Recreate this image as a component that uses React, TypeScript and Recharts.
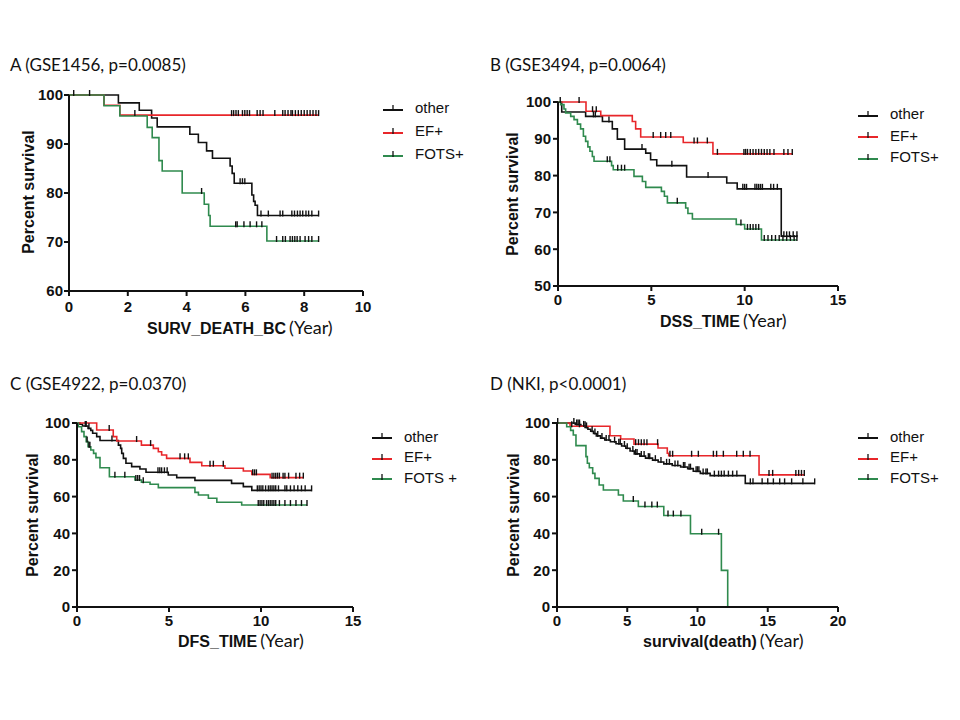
import React from "react";
import { LineChart, Line, XAxis, YAxis, Legend } from "recharts";

// ---------- A (GSE1456) ----------
const aOtherTime = [1.68, 2.39, 2.81, 3.0, 4.11, 4.4, 4.68, 4.88, 5.48, 5.55, 5.62, 6.22, 6.28, 6.33, 6.41];
const aOtherSurv = [98.4, 96.9, 95.3, 93.5, 92.0, 90.3, 88.6, 87.1, 85.5, 84.0, 82.0, 79.6, 78.3, 77.5, 75.4];
const aOtherCens = [0.16, 0.7, 5.82, 5.9, 5.98, 6.53, 6.78, 7.18, 7.27, 7.58, 7.67, 7.77, 7.86, 7.95, 8.06, 8.15, 8.26, 8.49];
const aEfTime = [1.19, 1.73];
const aEfSurv = [97.9, 95.9];
const aEfCens = [2.24, 5.53, 5.6, 5.68, 5.76, 5.9, 5.98, 6.06, 6.14, 6.4, 6.5, 6.6, 7.0, 7.27, 7.35, 7.45, 7.55, 7.6, 7.7, 7.8, 7.9, 8.0, 8.1, 8.2, 8.3, 8.4, 8.49];
const aFotsTime = [1.19, 1.73, 2.66, 2.83, 3.06, 3.17, 3.85, 4.6, 4.75, 4.8, 6.73];
const aFotsSurv = [97.8, 95.7, 93.4, 91.3, 86.6, 84.5, 80.0, 77.7, 75.4, 73.2, 70.2];
const aFotsCens = [4.51, 5.67, 5.72, 5.95, 6.16, 6.38, 6.56, 7.06, 7.27, 7.36, 7.52, 7.6, 7.68, 7.76, 7.86, 8.03, 8.15, 8.26, 8.49];

// ---------- B (GSE3494) ----------
const bOtherTime = [0.2, 1.48, 2.38, 2.91, 3.18, 3.57, 4.7, 4.96, 5.29, 6.89, 9.04, 9.6, 11.96];
const bOtherSurv = [97.3, 96.1, 94.7, 92.7, 89.9, 87.2, 86.1, 84.3, 82.7, 79.6, 78.0, 76.4, 63.5];
const bOtherCens = [0.12, 1.9, 2.0, 2.73, 4.5, 6.1, 8.04, 9.9, 10.0, 10.1, 10.55, 10.65, 10.75, 10.85, 10.95, 11.4, 11.55, 11.75, 12.1, 12.25, 12.4, 12.6, 12.8];
const bEfTime = [1.5, 2.29, 3.98, 4.16, 4.43, 6.71, 8.3];
const bEfSurv = [97.5, 96.3, 94.7, 92.7, 90.5, 89.0, 85.9];
const bEfCens = [1.13, 1.85, 2.05, 5.1, 5.5, 5.77, 6.04, 7.29, 7.47, 8.0, 8.54, 9.96, 10.05, 10.15, 10.3, 10.45, 10.6, 10.75, 10.9, 11.05, 11.2, 11.35, 11.57, 12.1, 12.32, 12.55];
const bFotsTime = [0.14, 0.32, 0.41, 0.68, 0.86, 1.04, 1.21, 1.36, 1.48, 1.6, 1.71, 1.84, 1.93, 2.87, 2.96, 4.07, 4.52, 4.7, 5.54, 5.7, 5.86, 6.84, 6.96, 7.2, 9.55, 10.0, 10.9];
const bFotsSurv = [99.3, 98.1, 97.0, 96.1, 95.2, 94.0, 92.7, 90.7, 89.3, 87.8, 86.6, 85.2, 83.9, 82.7, 81.6, 79.8, 78.4, 76.8, 75.7, 74.4, 72.6, 71.2, 69.7, 68.2, 66.7, 65.5, 62.5];
const bFotsCens = [2.64, 2.78, 3.2, 3.4, 3.57, 6.39, 9.8, 10.15, 10.3, 10.45, 10.6, 10.75, 11.05, 11.25, 11.45, 11.65, 11.85, 12.05, 12.25, 12.45, 12.65, 12.8];

// ---------- C (GSE4922) ----------
const cOtherTime = [0.16, 0.3, 0.6, 0.75, 0.85, 1.07, 1.25, 2.25, 2.37, 2.43, 2.52, 2.66, 2.97, 3.42, 3.75, 4.96, 5.42, 6.41, 8.4, 9.04, 9.5];
const cOtherSurv = [99.3, 98.4, 97.1, 96.0, 94.4, 92.6, 90.5, 88.0, 86.2, 83.5, 80.8, 78.1, 76.3, 75.0, 73.2, 71.7, 70.3, 68.8, 67.2, 65.4, 63.4];
const cOtherCens = [0.45, 0.5, 0.65, 1.9, 4.4, 4.5, 4.6, 4.75, 4.9, 9.8, 9.9, 10.0, 10.1, 10.25, 10.4, 10.5, 10.6, 10.7, 10.8, 10.95, 11.3, 11.4, 11.6, 11.8, 12.0, 12.2, 12.4, 12.75];
const cEfTime = [1.07, 1.97, 2.16, 3.5, 4.15, 4.42, 4.6, 4.87, 6.14, 6.78, 8.04, 9.04, 9.5, 10.5];
const cEfSurv = [96.2, 92.6, 90.2, 88.0, 86.2, 84.4, 82.6, 80.8, 78.6, 76.8, 75.4, 73.9, 72.1, 70.3];
const cEfCens = [1.75, 3.24, 4.0, 5.6, 5.85, 6.05, 7.23, 7.41, 7.95, 9.55, 9.65, 9.75, 10.6, 10.7, 10.8, 10.9, 11.0, 11.2, 11.3, 11.5, 11.9, 12.1, 12.3];
const cFotsTime = [0.07, 0.25, 0.38, 0.5, 0.6, 0.75, 0.9, 1.03, 1.25, 1.76, 3.15, 3.5, 3.97, 4.42, 6.41, 6.6, 7.14, 7.6, 8.95];
const cFotsSurv = [98.0, 95.3, 92.6, 89.9, 87.1, 85.3, 83.5, 81.2, 75.7, 70.8, 69.0, 67.8, 66.7, 64.9, 62.3, 60.9, 59.1, 56.9, 55.4];
const cFotsCens = [0.55, 0.65, 0.7, 2.06, 2.6, 3.2, 3.3, 3.4, 3.6, 9.85, 9.95, 10.05, 10.15, 10.3, 10.4, 10.5, 10.6, 10.7, 10.8, 11.0, 11.3, 11.6, 11.9, 12.2, 12.5];

// ---------- D (NKI) ----------
const dOtherTime = [1.3, 1.7, 2.0, 2.2, 2.4, 2.6, 2.8, 3.1, 3.4, 3.8, 4.2, 4.6, 4.9, 5.2, 5.5, 5.9, 6.3, 6.8, 7.2, 7.6, 8.2, 8.8, 9.3, 9.7, 10.2, 10.9, 13.4];
const dOtherSurv = [99.2, 98.4, 97.6, 96.6, 95.5, 94.3, 93.0, 91.8, 90.8, 89.8, 88.7, 87.5, 86.3, 84.8, 83.2, 82.0, 80.9, 79.8, 78.8, 77.8, 76.9, 76.1, 75.2, 73.8, 72.6, 71.4, 67.2];
const dOtherCens = [1.2, 1.4, 1.5, 1.6, 1.9, 2.1, 2.5, 2.7, 2.9, 3.2, 3.5, 3.7, 4.1, 4.4, 4.5, 4.8, 5.0, 5.4, 5.6, 5.7, 6.0, 6.2, 6.5, 6.6, 7.0, 7.4, 7.8, 8.0, 8.4, 8.6, 9.0, 9.1, 9.4, 9.5, 9.9, 10.0, 10.1, 10.4, 10.6, 10.7, 11.2, 11.5, 11.7, 11.9, 12.2, 12.5, 12.8, 13.76, 13.95, 14.6, 15.0, 15.4, 15.85, 16.2, 16.7, 17.5, 18.34];
const dEfTime = [0.93, 3.77, 4.53, 5.48, 7.19, 7.85, 7.95, 14.38];
const dEfSurv = [98.2, 93.1, 91.3, 88.5, 86.4, 83.6, 82.2, 71.8];
const dEfCens = [1.05, 1.6, 2.0, 5.6, 5.8, 6.0, 6.2, 6.4, 7.16, 8.04, 8.23, 9.58, 10.06, 11.13, 11.36, 11.84, 12.79, 13.26, 13.74, 15.09, 15.35, 17.0, 17.2, 17.4, 17.6];
const dFotsTime = [0.69, 0.97, 1.16, 1.35, 2.06, 2.16, 2.3, 2.54, 2.7, 3.0, 3.3, 4.37, 4.72, 5.79, 7.6, 9.5, 11.7, 12.15];
const dFotsSurv = [98.0, 96.0, 93.5, 87.7, 81.7, 78.1, 75.7, 72.6, 69.9, 66.3, 63.6, 60.9, 57.6, 54.6, 49.7, 39.8, 19.9, 0];
const dFotsCens = [0.05, 5.43, 6.26, 6.75, 7.14, 7.9, 8.28, 8.82, 10.3, 11.5];

const BLACK = "#111111";
const RED = "#e8262a";
const GREEN = "#2f8a4e";
const ARIAL = "'Liberation Sans', Arial, sans-serif";
const TITLE_FONT = "Lato, 'Open Sans', sans-serif";

type Pt = { t: number; s: number; c: boolean };

// turn event steps + censor times into KM step points
function km(times: number[], surv: number[], cens: number[]): Pt[] {
  const all = [
    ...times.map((t, i) => ({ t, s: surv[i], c: false })),
    ...cens.map((t) => ({ t, s: 0, c: true })),
  ].sort((a, b) => a.t - b.t || (a.c ? 1 : 0) - (b.c ? 1 : 0));
  let level = 100;
  const out: Pt[] = [{ t: 0, s: 100, c: false }];
  all.forEach((p) => {
    if (!p.c) level = p.s;
    out.push({ t: p.t, s: level, c: p.c });
  });
  return out;
}

const censorDot = (color: string) => (props: any) => {
  const { cx, cy, payload, index } = props;
  if (!payload || !payload.c || cx == null || cy == null) return <g key={`d${index}`} />;
  return <line key={`d${index}`} x1={cx} x2={cx} y1={cy - 5} y2={cy + 1} stroke={color} strokeWidth={1.4} />;
};

const legendNames = ["other", "EF+", "FOTS+"];
const legendColors = [BLACK, RED, GREEN];

function KMLegend({ names, rowH }: { names: string[]; rowH: number }) {
  return (
    <div>
      {names.map((n, i) => (
        <div key={n} style={{ display: "flex", alignItems: "center", height: rowH }}>
          <svg width={20} height={12} style={{ marginRight: 12 }}>
            <line x1={0} x2={20} y1={8} y2={8} stroke={legendColors[i]} strokeWidth={2} />
            <line x1={10} x2={10} y1={3} y2={9} stroke={BLACK} strokeWidth={1.3} />
          </svg>
          <span style={{ fontFamily: ARIAL, fontSize: 15, color: "#111" }}>{n}</span>
        </div>
      ))}
    </div>
  );
}

// x axis title: bold variable name plus "(Year)" in a lighter face
function XTitle({ px, py, main }: { px: number; py: number; main: string }) {
  return (
    <text x={px} y={py} fill="#111">
      <tspan fontFamily={ARIAL} fontWeight="bold" fontSize={16}>{main}</tspan>
      <tspan fontFamily={TITLE_FONT} fontSize={18} dx={3}>(Year)</tspan>
    </text>
  );
}

function YTitle({ px, py }: { px: number; py: number }) {
  return (
    <text
      transform={`translate(${px},${py}) rotate(-90)`}
      textAnchor="middle"
      dominantBaseline="central"
      fontFamily={ARIAL}
      fontWeight="bold"
      fontSize={16}
      fill="#111"
    >
      Percent survival
    </text>
  );
}

type PanelProps = {
  left: number;
  top: number;
  title: string;
  plot: { l: number; r: number; t: number; b: number };
  xDomain: number[];
  xTicks: number[];
  yDomain: number[];
  yTicks: number[];
  xTickMargin: number;
  yTickMargin: number;
  series: Pt[][];
  names: string[];
  xTitle: { x: number; y: number; main: string };
  yTitle: { x: number; y: number };
  legend: { x: number; y: number; rowH: number };
  titleY: number;
};

function Panel(p: PanelProps) {
  const W = 480;
  const H = 360;
  const xAxisH = 30;
  const tick = { fontFamily: ARIAL, fontSize: 15, fontWeight: "bold", fill: "#111" } as any;
  return (
    <div style={{ position: "absolute", left: p.left, top: p.top, width: W, height: H }}>
      <div
        style={{
          position: "absolute",
          left: 10,
          top: p.titleY - 11,
          fontFamily: TITLE_FONT,
          fontSize: 17,
          lineHeight: "22px",
          color: "#111",
          whiteSpace: "nowrap",
        }}
      >
        {p.title}
      </div>
      <LineChart
        width={W}
        height={H}
        margin={{ top: p.plot.t, right: W - p.plot.r, left: 0, bottom: H - p.plot.b - xAxisH }}
      >
        <XAxis
          dataKey="t"
          type="number"
          domain={p.xDomain}
          ticks={p.xTicks}
          height={xAxisH}
          tickSize={5}
          tickMargin={p.xTickMargin}
          axisLine={{ stroke: "#111", strokeWidth: 2 }}
          tickLine={{ stroke: "#111", strokeWidth: 2 }}
          tick={tick}
          label={<XTitle px={p.xTitle.x} py={p.xTitle.y} main={p.xTitle.main} />}
        />
        <YAxis
          type="number"
          domain={p.yDomain}
          ticks={p.yTicks}
          width={p.plot.l}
          tickSize={5}
          tickMargin={p.yTickMargin}
          axisLine={{ stroke: "#111", strokeWidth: 2 }}
          tickLine={{ stroke: "#111", strokeWidth: 2 }}
          tick={tick}
          label={<YTitle px={p.yTitle.x} py={p.yTitle.y} />}
        />
        <Legend
          layout="vertical"
          align="center"
          verticalAlign="middle"
          wrapperStyle={{ left: p.legend.x, top: p.legend.y, width: 90, height: p.legend.rowH * 3 }}
          content={() => <KMLegend names={p.names} rowH={p.legend.rowH} />}
        />
        {p.series.map((d, i) => (
          <Line
            key={p.names[i]}
            name={p.names[i]}
            data={d}
            dataKey="s"
            type="stepAfter"
            stroke={legendColors[i]}
            strokeWidth={1.6}
            dot={censorDot(BLACK)}
            activeDot={false}
            isAnimationActive={false}
          />
        ))}
      </LineChart>
    </div>
  );
}

export default function App() {
  return (
    <div style={{ position: "absolute", left: 0, top: 0, width: 960, height: 720, background: "#fff" }}>
      <Panel
        left={0}
        top={0}
        title="A (GSE1456, p=0.0085)"
        titleY={65}
        plot={{ l: 69, r: 363, t: 95, b: 291 }}
        xDomain={[0, 10]}
        xTicks={[0, 2, 4, 6, 8, 10]}
        yDomain={[60, 100]}
        yTicks={[60, 70, 80, 90, 100]}
        xTickMargin={5}
        yTickMargin={1}
        series={[
          km(aOtherTime, aOtherSurv, aOtherCens),
          km(aEfTime, aEfSurv, aEfCens),
          km(aFotsTime, aFotsSurv, aFotsCens),
        ]}
        names={legendNames}
        xTitle={{ x: 147, y: 334, main: "SURV_DEATH_BC" }}
        yTitle={{ x: 28, y: 192 }}
        legend={{ x: 383, y: 96, rowH: 23 }}
      />
      <Panel
        left={480}
        top={0}
        title="B (GSE3494, p=0.0064)"
        titleY={65}
        plot={{ l: 78, r: 358, t: 102, b: 286 }}
        xDomain={[0, 15]}
        xTicks={[0, 5, 10, 15]}
        yDomain={[50, 100]}
        yTicks={[50, 60, 70, 80, 90, 100]}
        xTickMargin={3}
        yTickMargin={2}
        series={[
          km(bOtherTime, bOtherSurv, bOtherCens),
          km(bEfTime, bEfSurv, bEfCens),
          km(bFotsTime, bFotsSurv, bFotsCens),
        ]}
        names={legendNames}
        xTitle={{ x: 180, y: 327, main: "DSS_TIME" }}
        yTitle={{ x: 32, y: 194 }}
        legend={{ x: 378, y: 103, rowH: 21.5 }}
      />
      <Panel
        left={0}
        top={360}
        title="C (GSE4922, p=0.0370)"
        titleY={24}
        plot={{ l: 77, r: 353, t: 63, b: 247 }}
        xDomain={[0, 15]}
        xTicks={[0, 5, 10, 15]}
        yDomain={[0, 100]}
        yTicks={[0, 20, 40, 60, 80, 100]}
        xTickMargin={3}
        yTickMargin={2}
        series={[
          km(cOtherTime, cOtherSurv, cOtherCens),
          km(cEfTime, cEfSurv, cEfCens),
          km(cFotsTime, cFotsSurv, cFotsCens),
        ]}
        names={["other", "EF+", "FOTS +"]}
        xTitle={{ x: 178, y: 287, main: "DFS_TIME" }}
        yTitle={{ x: 32, y: 155 }}
        legend={{ x: 372, y: 66, rowH: 20.5 }}
      />
      <Panel
        left={480}
        top={360}
        title="D (NKI, p<0.0001)"
        titleY={24}
        plot={{ l: 77, r: 358, t: 63, b: 247 }}
        xDomain={[0, 20]}
        xTicks={[0, 5, 10, 15, 20]}
        yDomain={[0, 100]}
        yTicks={[0, 20, 40, 60, 80, 100]}
        xTickMargin={3}
        yTickMargin={2}
        series={[
          km(dOtherTime, dOtherSurv, dOtherCens),
          km(dEfTime, dEfSurv, dEfCens),
          km(dFotsTime, dFotsSurv, dFotsCens),
        ]}
        names={legendNames}
        xTitle={{ x: 163, y: 287, main: "survival(death)" }}
        yTitle={{ x: 33, y: 155 }}
        legend={{ x: 378, y: 66, rowH: 20.5 }}
      />
    </div>
  );
}
